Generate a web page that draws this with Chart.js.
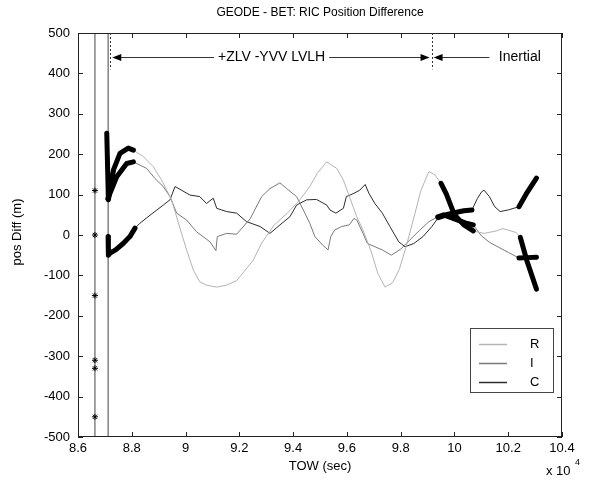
<!DOCTYPE html>
<html>
<head>
<meta charset="utf-8">
<title>GEODE - BET: RIC Position Difference</title>
<script src="https://cdn.jsdelivr.net/npm/chart.js@4.4.1/dist/chart.umd.min.js"></script>
<style>
  body { margin: 0; background: #fff; }
  canvas { display: block; }
</style>
</head>
<body>
<canvas id="myChart" width="613" height="484"></canvas>
<script>
// Eixos (TOW em unidades de 10^4 s)
const xTickValues = [8.6, 8.8, 9, 9.2, 9.4, 9.6, 9.8, 10, 10.2, 10.4];
const yTickValues = [-500, -400, -300, -200, -100, 0, 100, 200, 300, 400, 500];
const seriesNames = ['R', 'I', 'C'];

// R
const rTime = [8.707, 8.713, 8.732, 8.756, 8.787, 8.806, 8.843, 8.880, 8.911, 8.930, 8.948, 8.985, 9.004, 9.029, 9.053, 9.078, 9.116, 9.153, 9.190, 9.252, 9.283, 9.330, 9.380, 9.425, 9.462, 9.490, 9.525, 9.562, 9.587, 9.605, 9.637, 9.660, 9.690, 9.715, 9.742, 9.770, 9.795, 9.820, 9.848, 9.875, 9.905, 9.927, 9.950, 9.970, 10.000, 10.035, 10.070, 10.110, 10.155, 10.180, 10.230, 10.245, 10.270, 10.305];
const rDiff = [252, 87, 161, 202, 215, 210, 194, 169, 136, 111, 87, 4, -37, -87, -116, -124, -129, -124, -113, -62, -20, 25, 55, 87, 120, 153, 181, 165, 136, 103, 45, 12, -40, -95, -129, -118, -85, -30, 40, 110, 157, 149, 128, 101, 50, 25, 10, 4, 10, 16, 6, -6, -65, -134];

// I
const iTime = [8.711, 8.719, 8.744, 8.781, 8.806, 8.855, 8.886, 8.917, 8.942, 8.967, 9.004, 9.041, 9.091, 9.113, 9.118, 9.153, 9.190, 9.240, 9.283, 9.314, 9.351, 9.376, 9.413, 9.438, 9.462, 9.481, 9.510, 9.530, 9.540, 9.554, 9.581, 9.609, 9.626, 9.637, 9.660, 9.676, 9.704, 9.732, 9.765, 9.800, 9.827, 9.871, 9.905, 9.938, 9.960, 10.000, 10.040, 10.070, 10.100, 10.130, 10.155, 10.200, 10.240, 10.270, 10.305];
const iDiff = [90, 103, 144, 177, 181, 165, 140, 120, 95, 54, 37, 8, -17, -39, -4, 4, 2, 40, 95, 115, 129, 115, 95, 62, 29, -4, -25, -37, -4, 12, 21, 25, 41, 37, 4, -21, -29, -37, -50, -35, -17, 12, 33, 45, 50, 40, 30, 25, -2, -18, -27, -43, -57, -56, -55];

// C
const cTime = [8.712, 8.713, 8.719, 8.740, 8.768, 8.793, 8.812, 8.830, 8.868, 8.917, 8.942, 8.961, 9.016, 9.053, 9.078, 9.103, 9.116, 9.153, 9.190, 9.227, 9.277, 9.314, 9.351, 9.388, 9.413, 9.450, 9.487, 9.525, 9.537, 9.559, 9.587, 9.598, 9.626, 9.648, 9.668, 9.682, 9.704, 9.732, 9.760, 9.793, 9.816, 9.849, 9.883, 9.916, 9.940, 9.970, 10.000, 10.035, 10.065, 10.085, 10.100, 10.110, 10.130, 10.150, 10.170, 10.200, 10.240, 10.270, 10.305];
const cDiff = [-4, -50, -45, -37, -21, -4, 17, 29, 49, 74, 87, 120, 99, 95, 78, 91, 66, 58, 54, 33, 21, 4, 25, 45, 74, 87, 88, 74, 62, 54, 66, 95, 103, 111, 125, 103, 78, 54, 21, -17, -29, -21, -4, 21, 43, 50, 55, 60, 62, 90, 106, 111, 95, 70, 58, 62, 70, 105, 141];

// trechos marcados com '*' (ficam grossos no grafico)
const markedWindows = [[8.70, 8.815], [9.935, 10.075], [10.235, 10.32]];

// linhas verticais do inicio
const jumpTime = [8.663, 8.712];
const jumpRange = [-500, 500];
const jumpStarsDiff = [110, 0, -150, -310, -330, -450];

// anotacao das fases de atitude
const annotY = 440;
const lvlhStart = 8.72;
const lvlhLabelAt = 9.32;
const modeSwitch = 9.915;
const inertialEnd = 10.13;
const inertialLabelAt = 10.165;
const separatorBottom = 410;

const seriesColors = ['#b4b4b4', '#7a7a7a', '#2c2c2c'];
const fontFamily = '"Liberation Sans", Arial, sans-serif';

const toPoints = (t, d) => t.map((v, i) => ({ x: v, y: d[i] }));
const allSeries = [toPoints(rTime, rDiff), toPoints(iTime, iDiff), toPoints(cTime, cDiff)];

const datasets = [];

// trechos grossos por cima
allSeries.forEach(pts => {
  markedWindows.forEach(w => {
    datasets.push({
      data: pts.filter(p => p.x >= w[0] && p.x <= w[1]),
      showLine: true, borderColor: '#000', borderWidth: 5,
      pointRadius: 0, order: 0, borderJoinStyle: 'round', borderCapStyle: 'round'
    });
  });
});

// linhas finas
allSeries.forEach((pts, k) => {
  datasets.push({
    label: seriesNames[k], data: pts, showLine: true,
    borderColor: seriesColors[k], borderWidth: 1, pointRadius: 0, order: 1
  });
});

// linhas verticais + estrelas
jumpTime.forEach(t => {
  datasets.push({
    data: jumpRange.map(v => ({ x: t, y: v })), showLine: true,
    borderColor: '#444', borderWidth: 1, pointRadius: 0, order: 2
  });
});
datasets.push({
  data: jumpStarsDiff.map(v => ({ x: jumpTime[0], y: v })), showLine: false,
  pointStyle: 'star', pointRadius: 3, borderColor: '#000', borderWidth: 1, order: 0
});

function arrowHead(ctx, x, y, dir) {
  ctx.beginPath();
  ctx.moveTo(x, y);
  ctx.lineTo(x - dir * 9, y - 3.5);
  ctx.lineTo(x - dir * 9, y + 3.5);
  ctx.closePath();
  ctx.fill();
}

const decor = {
  id: 'decor',
  beforeDraw(chart) {
    const ctx = chart.ctx;
    ctx.save();
    ctx.fillStyle = '#fff';
    ctx.fillRect(0, 0, chart.width, chart.height);
    ctx.restore();
  },
  afterDatasetsDraw(chart) {
    const { ctx, chartArea: a, scales: { x, y } } = chart;
    ctx.save();

    // moldura e ticks para dentro
    ctx.strokeStyle = '#222';
    ctx.lineWidth = 1;
    ctx.strokeRect(a.left + 0.5, a.top + 0.5, a.right - a.left - 1, a.bottom - a.top - 1);
    ctx.beginPath();
    xTickValues.forEach(v => {
      const px = Math.round(x.getPixelForValue(v)) + 0.5;
      ctx.moveTo(px, a.bottom); ctx.lineTo(px, a.bottom - 5);
      ctx.moveTo(px, a.top); ctx.lineTo(px, a.top + 5);
    });
    yTickValues.forEach(v => {
      const py = Math.round(y.getPixelForValue(v)) + 0.5;
      ctx.moveTo(a.left, py); ctx.lineTo(a.left + 5, py);
      ctx.moveTo(a.right, py); ctx.lineTo(a.right - 5, py);
    });
    ctx.stroke();

    // anotacao
    const ay = Math.round(y.getPixelForValue(annotY)) + 0.5;
    const x0 = x.getPixelForValue(lvlhStart);
    const x1 = x.getPixelForValue(modeSwitch);
    const x2 = x.getPixelForValue(inertialEnd);
    ctx.fillStyle = '#000';
    ctx.strokeStyle = '#333';
    ctx.font = '14px ' + fontFamily;
    ctx.textBaseline = 'middle';
    const lvlh = '+ZLV -YVV LVLH';
    const tw = ctx.measureText(lvlh).width;
    const tc = x.getPixelForValue(lvlhLabelAt);
    ctx.beginPath();
    ctx.moveTo(x0 + 6, ay); ctx.lineTo(tc - tw / 2 - 4, ay);
    ctx.moveTo(tc + tw / 2 + 4, ay); ctx.lineTo(x1 - 4, ay);
    ctx.moveTo(x1 + 4, ay); ctx.lineTo(x2, ay);
    ctx.stroke();
    arrowHead(ctx, x0 + 2, ay, -1);
    arrowHead(ctx, x1 - 2, ay, 1);
    arrowHead(ctx, x1 + 2, ay, -1);
    ctx.textAlign = 'center';
    ctx.fillText(lvlh, tc, ay);
    ctx.textAlign = 'left';
    ctx.fillText('Inertial', x.getPixelForValue(inertialLabelAt), ay);

    ctx.setLineDash([2, 2]);
    ctx.beginPath();
    [lvlhStart, modeSwitch].forEach(t => {
      const px = Math.round(x.getPixelForValue(t)) + 0.5;
      ctx.moveTo(px, a.top); ctx.lineTo(px, y.getPixelForValue(separatorBottom));
    });
    ctx.stroke();
    ctx.setLineDash([]);

    // legenda
    const lx = 470, lyTop = 328, lw = 83, lh = 64;
    ctx.fillStyle = '#fff';
    ctx.fillRect(lx, lyTop, lw, lh);
    ctx.strokeStyle = '#444';
    ctx.strokeRect(lx + 0.5, lyTop + 0.5, lw, lh);
    ctx.font = '13px ' + fontFamily;
    seriesNames.forEach((name, k) => {
      const ry = lyTop + 16 + k * 19 + 0.5;
      ctx.strokeStyle = seriesColors[k];
      ctx.lineWidth = 1.5;
      ctx.beginPath();
      ctx.moveTo(lx + 9, ry); ctx.lineTo(lx + 37, ry);
      ctx.stroke();
      ctx.fillStyle = '#000';
      ctx.fillText(name, lx + 60, ry);
    });

    // titulos
    ctx.fillStyle = '#000';
    ctx.textAlign = 'center';
    ctx.font = '12px ' + fontFamily;
    ctx.fillText('GEODE - BET: RIC Position Difference', (a.left + a.right) / 2, 13);
    ctx.font = '13px ' + fontFamily;
    ctx.fillText('TOW (sec)', (a.left + a.right) / 2, 466);
    ctx.textAlign = 'left';
    ctx.fillText('x 10', 546, 471);
    ctx.font = '9px ' + fontFamily;
    ctx.fillText('4', 575, 463);
    ctx.save();
    ctx.translate(17, 232);
    ctx.rotate(-Math.PI / 2);
    ctx.textAlign = 'center';
    ctx.font = '13px ' + fontFamily;
    ctx.fillText('pos Diff (m)', 0, 0);
    ctx.restore();

    ctx.restore();
  }
};

const ctx = document.getElementById('myChart').getContext('2d');
const myChart = new Chart(ctx, {
  type: 'scatter',
  data: { datasets: datasets },
  options: {
    responsive: false,
    animation: false,
    layout: { padding: { left: 0, top: 33, right: 51, bottom: 0 } },
    plugins: { legend: { display: false }, tooltip: { enabled: false } },
    scales: {
      x: {
        type: 'linear', min: 8.6, max: 10.4,
        afterBuildTicks: s => { s.ticks = xTickValues.map(v => ({ value: v })); },
        afterFit: s => { s.height = 47; },
        grid: { display: false, drawTicks: false }, border: { display: false },
        ticks: {
          padding: 4, color: '#000', maxRotation: 0, autoSkip: false,
          font: { size: 13, family: fontFamily },
          callback: v => String(+v.toFixed(1))
        }
      },
      y: {
        type: 'linear', min: -500, max: 500,
        afterBuildTicks: s => { s.ticks = yTickValues.map(v => ({ value: v })); },
        afterFit: s => { s.width = 78; },
        grid: { display: false, drawTicks: false }, border: { display: false },
        ticks: {
          padding: 8, color: '#000', autoSkip: false,
          font: { size: 13, family: fontFamily }
        }
      }
    }
  },
  plugins: [decor]
});
</script>
</body>
</html>
